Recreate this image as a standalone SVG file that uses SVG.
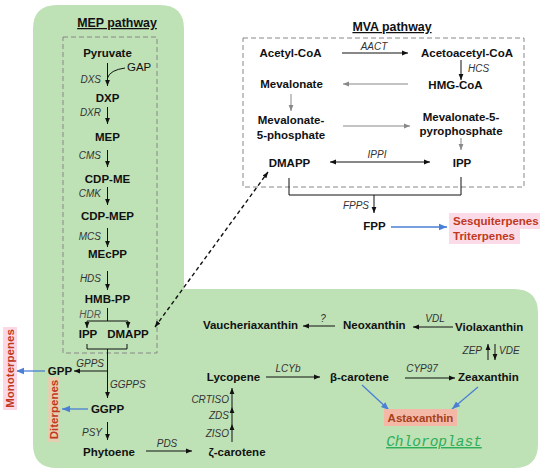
<svg xmlns="http://www.w3.org/2000/svg" width="550" height="475" viewBox="0 0 550 475">
<style>
text{font-family:"Liberation Sans",Arial,sans-serif}
.n{font-weight:bold;font-size:11.5px;fill:#111}
.p{font-size:11.5px;fill:#111}
.e{font-style:italic;font-size:10px;fill:#333}
.t{font-weight:bold;font-size:12.4px;fill:#111;text-decoration:underline}
.r{font-weight:bold;font-size:11.5px;fill:#c0391f}
.k{stroke:#111;stroke-width:1;fill:none}
.ka{stroke:#111;stroke-width:1;fill:none;marker-end:url(#ah)}
.g{stroke:#888;stroke-width:1;fill:none;marker-end:url(#ag)}
.b{stroke:#4a7fd6;stroke-width:1.3;fill:none;marker-end:url(#ab)}
</style>
<defs>
<marker id="ah" viewBox="0 0 10 10" refX="10" refY="5" markerWidth="6" markerHeight="6" markerUnits="userSpaceOnUse" orient="auto-start-reverse"><path d="M0,1 L10,5 L0,9 z" fill="#111"/></marker>
<marker id="ag" viewBox="0 0 10 10" refX="10" refY="5" markerWidth="6" markerHeight="6" markerUnits="userSpaceOnUse" orient="auto"><path d="M0,1 L10,5 L0,9 z" fill="#888"/></marker>
<marker id="ab" viewBox="0 0 10 10" refX="10" refY="5" markerWidth="8" markerHeight="8" markerUnits="userSpaceOnUse" orient="auto"><path d="M0,1 L10,5 L0,9 z" fill="#4a7fd6"/></marker>
</defs>
<rect width="550" height="475" fill="#fff"/>
<path id="chloroplast-bg" d="M57,5 H160 Q184,5 184,29 V289 H514 Q538,289 538,313 V444 Q538,468 514,468 H57 Q33,468 33,444 V29 Q33,5 57,5 Z" fill="#bfe1b6"/>
<rect id="mep-box" x="63" y="37" width="94" height="316" fill="none" stroke="#888" stroke-width="1" stroke-dasharray="5,3"/>
<rect id="mva-box" x="243" y="38" width="281" height="149" fill="none" stroke="#888" stroke-width="1" stroke-dasharray="5,3"/>
<text class="t" x="117" y="27" text-anchor="middle">MEP pathway</text>
<text class="t" x="392" y="31" text-anchor="middle">MVA pathway</text>

<g id="connectors">
<!-- MEP -->
<path class="k" d="M125,68 Q110,70 107.5,78"/>
<line class="ka" x1="107.5" y1="63" x2="107.5" y2="86"/>
<line class="ka" x1="107.5" y1="107" x2="107.5" y2="124"/>
<line class="ka" x1="107.5" y1="150" x2="107.5" y2="167"/>
<line class="ka" x1="107.5" y1="187" x2="107.5" y2="205"/>
<line class="ka" x1="107.5" y1="228" x2="107.5" y2="247"/>
<line class="ka" x1="107.5" y1="271" x2="107.5" y2="290"/>
<path class="k" d="M107.5,308 V321 M87,321 H128"/>
<line class="ka" x1="87" y1="321" x2="87" y2="328"/>
<line class="ka" x1="128" y1="321" x2="128" y2="328"/>
<path class="k" d="M87,344 V349 H127 V344"/>
<line class="ka" x1="107.5" y1="349" x2="107.5" y2="398"/>
<line class="ka" x1="107.5" y1="371" x2="74" y2="371"/>
<line class="b" x1="45" y1="371" x2="16" y2="371"/>
<line class="b" x1="88" y1="409" x2="62" y2="409"/>
<line class="ka" x1="107.5" y1="422" x2="107.5" y2="440"/>
<line class="ka" x1="146" y1="451" x2="192" y2="451"/>
<line class="ka" x1="232" y1="442" x2="232" y2="424"/>
<line class="ka" x1="232" y1="424" x2="232" y2="407"/>
<line class="ka" x1="232" y1="407" x2="232" y2="388"/>
<line class="ka" x1="266" y1="377" x2="320" y2="377"/>
<line class="ka" x1="335" y1="326" x2="303" y2="326"/>
<line class="ka" x1="453" y1="327" x2="413" y2="327"/>
<line class="ka" x1="488" y1="360" x2="488" y2="344"/>
<line class="ka" x1="495" y1="344" x2="495" y2="360"/>
<line class="ka" x1="405" y1="378" x2="455" y2="378"/>
<line class="b" x1="362" y1="385" x2="389" y2="410"/>
<line class="b" x1="478" y1="387" x2="452" y2="409"/>
<!-- MVA -->
<line class="ka" x1="342" y1="53" x2="408" y2="53"/>
<line class="ka" x1="461" y1="60" x2="461" y2="80"/>
<line class="g" x1="408" y1="84" x2="343" y2="84"/>
<line class="g" x1="291" y1="94" x2="291" y2="111"/>
<line class="g" x1="343" y1="126" x2="410" y2="126"/>
<line class="g" x1="461" y1="138" x2="461" y2="150"/>
<line class="ka" x1="330" y1="162" x2="430" y2="162" style="marker-start:url(#ah)"/>
<path class="k" d="M289,178 V195 H461 V177"/>
<line class="ka" x1="374" y1="195" x2="374" y2="213"/>
<line class="b" x1="391" y1="227" x2="447" y2="227"/>
<line class="ka" x1="155" y1="327" x2="268" y2="172" style="stroke-width:1.4;stroke-dasharray:4,3;marker-start:url(#ah)"/>
</g>

<g id="pyruvate"><text class="n" x="107.5" y="57" text-anchor="middle">Pyruvate</text></g>
<g id="gap"><text class="p" x="127" y="71">GAP</text></g>
<g id="dxs"><text class="e" x="101" y="83" text-anchor="end">DXS</text></g>
<g id="dxp"><text class="n" x="107.5" y="102" text-anchor="middle">DXP</text></g>
<g id="dxr"><text class="e" x="101" y="116" text-anchor="end">DXR</text></g>
<g id="mep"><text class="n" x="107.5" y="141" text-anchor="middle">MEP</text></g>
<g id="cms"><text class="e" x="101" y="159" text-anchor="end">CMS</text></g>
<g id="cdp-me"><text class="n" x="107.5" y="183" text-anchor="middle">CDP-ME</text></g>
<g id="cmk"><text class="e" x="101" y="197" text-anchor="end">CMK</text></g>
<g id="cdp-mep"><text class="n" x="107.5" y="220" text-anchor="middle">CDP-MEP</text></g>
<g id="mcs"><text class="e" x="101" y="240" text-anchor="end">MCS</text></g>
<g id="mecpp"><text class="n" x="107.5" y="258" text-anchor="middle">MEcPP</text></g>
<g id="hds"><text class="e" x="101" y="282" text-anchor="end">HDS</text></g>
<g id="hmb-pp"><text class="n" x="107.5" y="303" text-anchor="middle">HMB-PP</text></g>
<g id="hdr"><text class="e" x="101" y="318" text-anchor="end" style="fill:#555">HDR</text></g>
<g id="ipp-mep"><text class="n" x="88" y="338" text-anchor="middle">IPP</text></g>
<g id="dmapp-mep"><text class="n" x="128" y="338" text-anchor="middle">DMAPP</text></g>
<g id="gpps"><text class="e" x="104" y="367" text-anchor="end">GPPS</text></g>
<g id="gpp"><text class="n" x="60" y="375" text-anchor="middle">GPP</text></g>
<g id="monoterpenes"><rect x="3" y="327" width="14" height="83" fill="#fcd8e5"/><text class="r" transform="translate(14,368.5) rotate(-90)" text-anchor="middle">Monoterpenes</text></g>
<g id="ggpps"><text class="e" x="110" y="388">GGPPS</text></g>
<g id="ggpp"><text class="n" x="107.5" y="413" text-anchor="middle">GGPP</text></g>
<g id="diterpenes"><rect x="47" y="377" width="13" height="65" fill="#e4cfb0"/><text class="r" transform="translate(57.5,409.5) rotate(-90)" text-anchor="middle">Diterpenes</text></g>
<g id="psy"><text class="e" x="102" y="436" text-anchor="end">PSY</text></g>
<g id="phytoene"><text class="n" x="109" y="456" text-anchor="middle">Phytoene</text></g>
<g id="pds"><text class="e" x="167" y="447" text-anchor="middle">PDS</text></g>
<g id="zeta-carotene"><text class="n" x="237" y="456" text-anchor="middle">ζ-carotene</text></g>
<g id="ziso"><text class="e" x="229" y="437" text-anchor="end">ZISO</text></g>
<g id="zds"><text class="e" x="229" y="419" text-anchor="end">ZDS</text></g>
<g id="crtiso"><text class="e" x="229" y="403" text-anchor="end">CRTISO</text></g>
<g id="lycopene"><text class="n" x="233.5" y="381" text-anchor="middle">Lycopene</text></g>
<g id="lcyb"><text class="e" x="288" y="372" text-anchor="middle">LCYb</text></g>
<g id="beta-carotene"><text class="n" x="330" y="381">β-carotene</text></g>
<g id="cyp97"><text class="e" x="422" y="372" text-anchor="middle">CYP97</text></g>
<g id="zeaxanthin"><text class="n" x="458" y="381">Zeaxanthin</text></g>
<g id="zep"><text class="e" x="482" y="354" text-anchor="end">ZEP</text></g>
<g id="vde"><text class="e" x="499" y="354">VDE</text></g>
<g id="violaxanthin"><text class="n" x="455" y="331">Violaxanthin</text></g>
<g id="vdl"><text class="e" x="435" y="322" text-anchor="middle">VDL</text></g>
<g id="neoxanthin"><text class="n" x="343" y="329">Neoxanthin</text></g>
<g id="q"><text class="e" x="323" y="322" text-anchor="middle">?</text></g>
<g id="vaucheriaxanthin"><text class="n" x="250.5" y="329" text-anchor="middle">Vaucheriaxanthin</text></g>
<g id="astaxanthin"><rect x="384" y="409" width="73" height="17" fill="#f3b9a6"/><text class="r" x="420.5" y="422" text-anchor="middle" style="fill:#a5401c">Astaxanthin</text></g>
<g id="chloroplast"><text x="434" y="446" text-anchor="middle" style="font-family:'Liberation Mono','DejaVu Sans Mono',monospace;font-style:italic;font-size:14.5px;fill:#2fae5a;text-decoration:underline">Chloroplast</text></g>

<g id="acetyl-coa"><text class="n" x="290.5" y="57" text-anchor="middle">Acetyl-CoA</text></g>
<g id="aact"><text class="e" x="374" y="50" text-anchor="middle">AACT</text></g>
<g id="acetoacetyl-coa"><text class="n" x="467" y="57" text-anchor="middle">Acetoacetyl-CoA</text></g>
<g id="hcs"><text class="e" x="468" y="72">HCS</text></g>
<g id="hmg-coa"><text class="n" x="455.5" y="89" text-anchor="middle">HMG-CoA</text></g>
<g id="mevalonate"><text class="n" x="291.5" y="88" text-anchor="middle">Mevalonate</text></g>
<g id="mevalonate-5-phosphate"><text class="n" x="291" y="124" text-anchor="middle">Mevalonate-</text><text class="n" x="291" y="139" text-anchor="middle">5-phosphate</text></g>
<g id="mevalonate-5-pyrophosphate"><text class="n" x="461" y="121" text-anchor="middle">Mevalonate-5-</text><text class="n" x="461" y="135" text-anchor="middle">pyrophosphate</text></g>
<g id="dmapp-mva"><text class="n" x="289.5" y="167" text-anchor="middle">DMAPP</text></g>
<g id="ippi"><text class="e" x="377" y="158" text-anchor="middle">IPPI</text></g>
<g id="ipp-mva"><text class="n" x="462" y="167" text-anchor="middle">IPP</text></g>
<g id="fpps"><text class="e" x="369" y="209" text-anchor="end">FPPS</text></g>
<g id="fpp"><text class="n" x="374.5" y="230" text-anchor="middle">FPP</text></g>
<g id="sesquiterpenes"><rect x="449" y="213" width="91" height="16" fill="#fcdbe8"/><rect x="449" y="229" width="71" height="15" fill="#fcdbe8"/><text class="r" x="453" y="225">Sesquiterpenes</text><text class="r" x="453" y="240">Triterpenes</text></g>
</svg>
